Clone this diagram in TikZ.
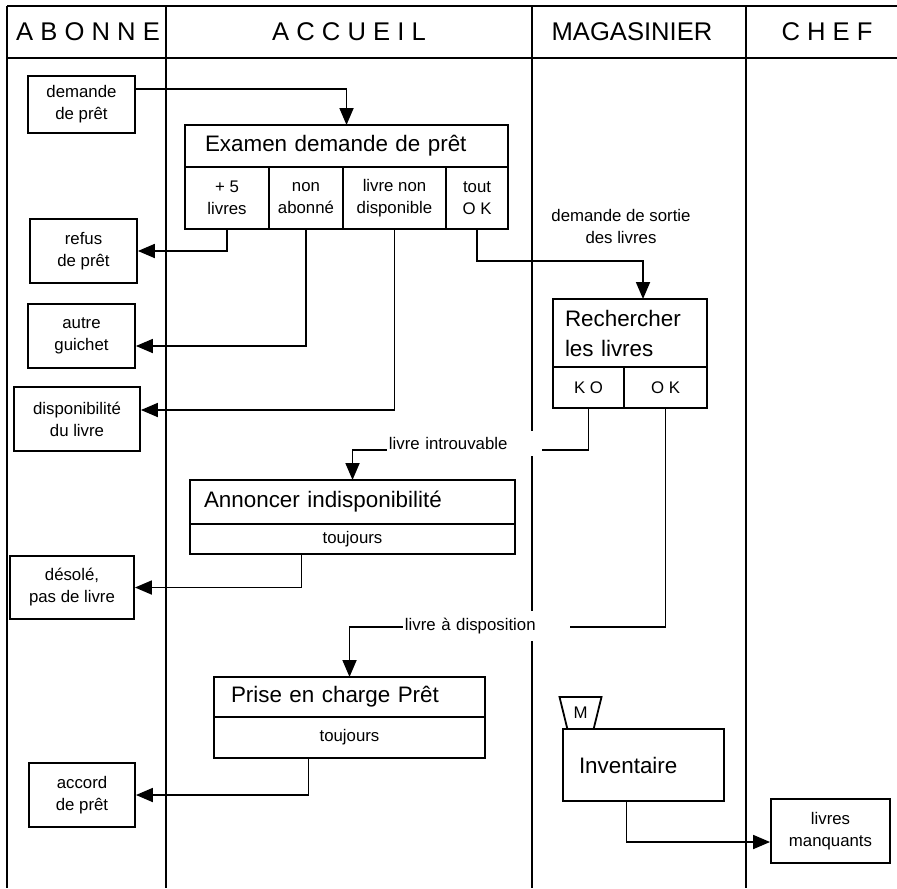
\documentclass[tikz,border=0pt]{standalone}
\usepackage{fontspec}
\setmainfont{Liberation Sans}
\usetikzlibrary{arrows.meta,calc,positioning,shapes.geometric}

\begin{document}
\begin{tikzpicture}[
    x=0.5pt, y=-0.5pt,
    line width=0.9pt,
    >={Triangle[length=8.5pt,width=7pt]},
    lane/.style={font=\fontsize{12.8}{15}\selectfont},
    doc/.style={
        draw,
        minimum width=53.5pt,
        minimum height=32pt,
        inner sep=1pt,
        align=center,
        font=\fontsize{8.4}{11}\selectfont
    },
    proc/.style={
        draw,
        anchor=north west,
        inner ysep=0pt,
        outer sep=0pt,
        align=left,
        font=\fontsize{11.2}{15}\selectfont
    },
    cell/.style={
        draw,
        anchor=north west,
        inner sep=0pt,
        outer sep=0pt,
        align=center,
        font=\fontsize{8.4}{11}\selectfont
    },
    flowtag/.style={fill=white, anchor=west, inner xsep=1pt, inner ysep=0pt,
        align=left, font=\fontsize{8.4}{11}\selectfont},
    flow/.style={->}
]
\useasboundingbox (0,0) rectangle (897,888);

% Lanes.
\draw (7,6) -- (897,6);
\draw (7,58) -- (897,58);
\foreach \name/\xl/\xt/\txt in {abo/7/88/A B O N N E, acc/166/349/A C C U E I L,
                                mag/532/632/MAGASINIER, chef/746/827/C H E F} {
    \draw (\xl,6) -- (\xl,888);
    \node[lane] (\name) at (\xt,32) {\txt};
}

% Documents on the ABONNE side.
\node[doc, minimum height=28.5pt] (dem) at (81.5,104.5) {demande\\de prêt};
\node[doc] (refus) at (83.5,251) {refus\\de prêt};
\node[doc] (autre) at (81.5,336) {autre\\guichet};
\node[doc, minimum width=63pt] (dispo) at (77,419) {disponibilité\\du livre};
\node[doc, minimum width=62pt, minimum height=31.5pt] (desole) at (72,587.5) {désolé,\\pas de livre};
\node[doc, minimum width=53pt] (accord) at (82,795) {accord\\de prêt};
\node[doc, minimum width=59.5pt] (manq) at (830.5,831) {livres\\manquants};

% Examen demande de pret.
\node[proc, text width=141.5pt, inner xsep=10pt, minimum height=21pt] (exam) at (185,125)
    {Examen demande de prêt};
\foreach \j/\x/\w/\txt in {1/185/84/{+ 5\\livres}, 2/269/74/{non\\abonné},
                           3/343/103/{livre non\\disponible}, 4/446/62/{tout\\O K}} {
    \node[cell, minimum width=\w*0.5pt, minimum height=31pt] (ex\j) at (\x,167) {\txt};
}

% Rechercher les livres.
\node[proc, text width=65pt, inner xsep=6pt, minimum height=34pt] (rech) at (553,299)
    {Rechercher\\les livres};
\node[cell, minimum width=35.5pt, minimum height=20.5pt] (ko) at (rech.south west) {K O};
\node[cell, minimum width=41.5pt, minimum height=20.5pt] (ok) at (ko.north east) {O K};

% Annoncer indisponibilite.
\node[proc, text width=148.5pt, inner xsep=7pt, minimum height=22pt] (ann) at (190,480)
    {Annoncer indisponibilité};
\node[cell, minimum width=162.5pt, minimum height=15pt] (ann2) at (ann.south west) {toujours};

% Prise en charge pret.
\node[proc, text width=118.5pt, inner xsep=8.5pt, minimum height=20pt] (prise) at (214,677)
    {Prise en charge Prêt};
\node[cell, minimum width=135.5pt, minimum height=20.5pt] (prise2) at (prise.south west) {toujours};

% Inventaire.
\node[proc, text width=64.5pt, inner xsep=8pt, minimum height=36pt] (inv) at (563,729)
    {Inventaire};
\node[draw, trapezium, shape border rotate=180, trapezium stretches=true,
      trapezium left angle=70, trapezium right angle=70,
      minimum width=21pt, minimum height=16pt, inner sep=0pt,
      font=\fontsize{8.4}{10}\selectfont] (trig) at (580.5,713) {M};

% Flows.
\coordinate (dembend) at (0,89);
\coordinate (sortbend) at (643,261);
\coordinate (kobend) at (352.5,450);
\coordinate (okbend) at (349.5,627);
\draw[flow] (dem.east |- dembend) -| (exam.north);
\draw[flow] (ex1.south) |- (refus.east);
\draw[flow] (ex2.south) |- ([yshift=-5pt]autre.east);
\draw[flow] (ex3.south) |- ([yshift=4.5pt]dispo.east);
\draw[flow] (ex4.south) |- (sortbend) -- (sortbend |- rech.north);
\draw[flow] (ko.south) |- (kobend) -- (ann.north);
\draw[flow] (ok.south) |- (okbend) -- (prise.north);
\draw[flow] ([xshift=-25.5pt]ann2.south) |- (desole.east);
\draw[flow] ([xshift=-20.5pt]prise2.south) |- (accord.east);
\draw[flow] ([xshift=-8.5pt]inv.south) |- ([yshift=-5.5pt]manq.west);

% Flow labels.
\node[align=center, font=\fontsize{8.4}{11}\selectfont] (sortie) at (621,226)
    {demande de sortie\\des livres};
\node[flowtag, text width=75.5pt, minimum height=12.5pt] (introuv) at (386,443) {livre introuvable};
\node[flowtag, text width=81.5pt, minimum height=15pt] (dispos) at (402,626) {livre à disposition};

\end{tikzpicture}
\end{document}
